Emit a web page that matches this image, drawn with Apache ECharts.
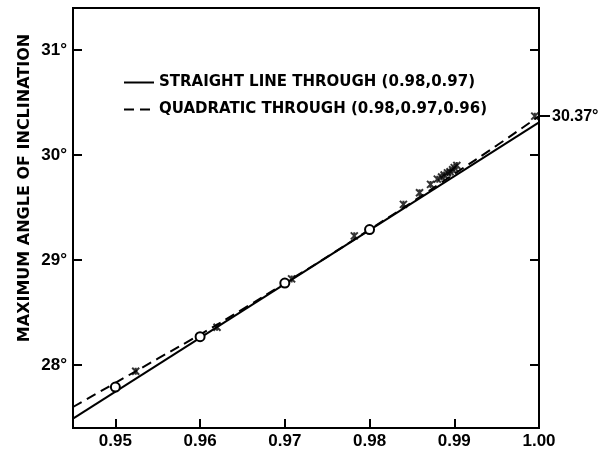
<!DOCTYPE html>
<html>
<head>
<meta charset="utf-8">
<script src="https://cdn.jsdelivr.net/npm/echarts@6/dist/echarts.min.js"></script>
<style>
html,body{margin:0;padding:0;background:#fff;}
#chart{width:614px;height:454px;}
</style>
</head>
<body>
<div id="chart"></div>
<script>
// ---- data ----
const xTicks = [0.95, 0.96, 0.97, 0.98, 0.99, 1.00];
const yTicks = [28, 29, 30, 31];
const extrapValue = [30.37];

const straightName = 'STRAIGHT LINE THROUGH (0.98,0.97)';
const quadName = 'QUADRATIC THROUGH (0.98,0.97,0.96)';

const straightX = [0.945, 1.00];
const straightY = [27.49, 30.31];

const quadX = [0.945, 0.95, 0.955, 0.96, 0.965, 0.97, 0.975, 0.98, 0.985, 0.99, 0.995, 1.00];
const quadY = [27.60, 27.83, 28.06, 28.29, 28.53, 28.78, 29.03, 29.29, 29.55, 29.82, 30.09, 30.37];

const circleX = [0.95, 0.96, 0.97, 0.98];
const circleY = [27.79, 28.27, 28.78, 29.29];

const crossX = [0.9524, 0.9620, 0.9708, 0.9782, 0.9840, 0.9859, 0.9872, 0.9880, 0.9885, 0.9888, 0.9892, 0.9895, 0.9898, 0.9900, 0.9903, 0.9995];
const crossY = [27.94, 28.36, 28.82, 29.23, 29.53, 29.64, 29.72, 29.77, 29.79, 29.81, 29.83, 29.84, 29.86, 29.88, 29.90, 30.37];

const yName = 'MAXIMUM ANGLE OF INCLINATION';

// ---- build ----
const zip = (xs, ys) => xs.map((x, i) => [x, ys[i]]);
const FONT = 'Liberation Sans';

const chart = echarts.init(document.getElementById('chart'), null, {renderer: 'canvas'});
chart.setOption({
  backgroundColor: '#fff',
  animation: false,
  grid: {left: 73, right: 75, top: 8, bottom: 26, show: true, borderColor: '#000', borderWidth: 2},
  legend: {
    data: [straightName, quadName],
    orient: 'vertical',
    left: 118, top: 70,
    itemWidth: 30, itemHeight: 14, itemGap: 12,
    itemStyle: {opacity: 0},
    textStyle: {fontFamily: 'DejaVu Sans', fontWeight: 'bold', fontSize: 15, color: '#000', padding: [0,0,0,0]}
  },
  xAxis: [{
    type: 'value', min: 0.945, max: 1.00, position: 'bottom',
    axisLine: {show: true, onZero: false, lineStyle: {color: '#000', width: 2}},
    axisTick: {show: true, inside: true, length: 9, customValues: xTicks, lineStyle: {color: '#000', width: 2}},
    axisLabel: {customValues: xTicks, formatter: v => v.toFixed(2), fontFamily: FONT, fontWeight: 'bold', fontSize: 17, color: '#000', margin: 5},
    splitLine: {show: false}
  }],
  yAxis: [{
    type: 'value', min: 27.4, max: 31.4, position: 'left',
    axisLine: {show: true, onZero: false, lineStyle: {color: '#000', width: 2}},
    axisTick: {show: true, inside: true, length: 9, customValues: yTicks, lineStyle: {color: '#000', width: 2}},
    axisLabel: {customValues: yTicks, formatter: v => v + '°', fontFamily: FONT, fontWeight: 'bold', fontSize: 17, color: '#000', margin: 6},
    splitLine: {show: false}
  }, {
    type: 'value', min: 27.4, max: 31.4, position: 'right',
    axisLine: {show: true, onZero: false, lineStyle: {color: '#000', width: 2}},
    axisTick: {show: true, inside: true, length: 9, customValues: yTicks, lineStyle: {color: '#000', width: 2}},
    axisLabel: {show: false},
    splitLine: {show: false}
  }, {
    type: 'value', min: 27.4, max: 31.4, position: 'right',
    axisLine: {show: false},
    axisTick: {show: true, inside: false, length: 11, customValues: extrapValue, lineStyle: {color: '#000', width: 2}},
    axisLabel: {customValues: extrapValue, formatter: v => v.toFixed(2) + '°', fontFamily: FONT, fontWeight: 'bold', fontSize: 16, color: '#000', margin: 13},
    splitLine: {show: false}
  }],
  graphic: [{
    type: 'text', x: 25, y: 188, rotation: Math.PI / 2,
    style: {text: yName, fontFamily: 'DejaVu Sans', fontWeight: 'bold', fontSize: 16, fill: '#000', align: 'center', verticalAlign: 'middle'}
  }],
  series: [{
    name: straightName, type: 'line', data: zip(straightX, straightY),
    symbol: 'none', lineStyle: {color: '#000', width: 2, type: 'solid'}, itemStyle: {color: '#000'}, z: 3
  }, {
    name: quadName, type: 'line', data: zip(quadX, quadY), smooth: true,
    symbol: 'none', lineStyle: {color: '#000', width: 2, type: [10, 6]}, itemStyle: {color: '#000'}, z: 3
  }, {
    name: 'circles', type: 'scatter', data: zip(circleX, circleY),
    symbol: 'circle', symbolSize: 9,
    itemStyle: {color: '#fff', borderColor: '#000', borderWidth: 2, opacity: 1}, z: 5
  }, {
    name: 'crosses', type: 'scatter', data: zip(crossX, crossY),
    symbol: 'path://M0,0L10,10M10,0L0,10M5,0L5,10', symbolSize: 7,
    itemStyle: {color: 'none', borderColor: '#000', borderWidth: 2}, z: 4
  }]
});
</script>
</body>
</html>
